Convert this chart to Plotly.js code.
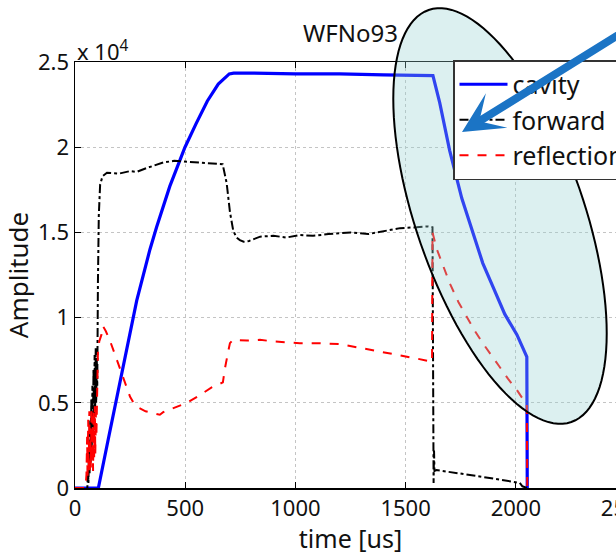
<!DOCTYPE html>
<html>
<head>
<meta charset="utf-8">
<script src="https://cdn.plot.ly/plotly-3.0.1.min.js"></script>
<style>
html,body{margin:0;padding:0;overflow:hidden;background:#fff;}
#chart{width:660px;height:555px;}
</style>
</head>
<body>
<div id="chart"></div>
<script>
// ---- data (amplitude in units of 10^4, time in us) ----
const cavityT = [0, 100, 106, 150, 189, 240, 280, 340, 370, 430, 499, 550, 600, 650, 700, 720, 800, 1000, 1200, 1400, 1624, 1655, 1700, 1755, 1800, 1850, 1900, 1950, 2005, 2045, 2050, 2052];
const cavityA = [0, 0, 0, 0.28, 0.52, 0.84, 1.10, 1.40, 1.53, 1.77, 2.00, 2.14, 2.27, 2.37, 2.43, 2.435, 2.435, 2.43, 2.43, 2.425, 2.42, 2.26, 1.98, 1.70, 1.52, 1.32, 1.17, 1.02, 0.90, 0.79, 0.77, 0];

const forwardT = [0, 56, 59, 61, 64, 66, 69, 71, 74, 76, 79, 81, 84, 86, 89, 91, 94, 96, 99, 101, 104, 108, 114, 125, 145, 200, 250, 280, 330, 400, 450, 500, 560, 620, 670, 688, 703, 718, 733, 748, 765, 790, 840, 900, 960, 1020, 1080, 1150, 1250, 1330, 1400, 1475, 1550, 1600, 1622, 1624, 1627, 1629, 1631, 1640, 1700, 1800, 1900, 1995, 2018, 2030, 2050];
const forwardA = [0, 0, 0.12, 0.03, 0.28, 0.08, 0.40, 0.15, 0.52, 0.22, 0.60, 0.30, 0.70, 0.35, 0.78, 0.42, 0.82, 0.50, 0.75, 0.60, 1.20, 1.60, 1.78, 1.83, 1.85, 1.845, 1.86, 1.855, 1.88, 1.91, 1.92, 1.915, 1.91, 1.905, 1.90, 1.79, 1.62, 1.51, 1.47, 1.455, 1.445, 1.45, 1.475, 1.48, 1.47, 1.485, 1.48, 1.49, 1.50, 1.49, 1.505, 1.525, 1.53, 1.535, 1.53, 0.05, 0.03, 0.22, 0.10, 0.105, 0.095, 0.075, 0.055, 0.035, 0.03, 0.01, 0];

const reflT = [0, 48, 52, 55, 57, 60, 62, 65, 67, 70, 72, 75, 77, 80, 82, 85, 87, 90, 92, 95, 97, 100, 104, 110, 120, 127, 140, 160, 190, 220, 250, 270, 290, 320, 360, 385, 400, 450, 508, 560, 620, 671, 680, 695, 703, 717, 780, 839, 900, 1020, 1100, 1200, 1324, 1400, 1474, 1550, 1620, 1622, 1642, 1670, 1701, 1740, 1778, 1815, 1850, 1890, 1927, 1965, 2005, 2041, 2050, 2052];
const reflA = [0, 0, 0.08, 0.30, 0.05, 0.40, 0.10, 0.45, 0.08, 0.35, 0.12, 0.47, 0.15, 0.42, 0.10, 0.46, 0.18, 0.48, 0.20, 0.45, 0.30, 0.60, 0.80, 0.86, 0.90, 0.95, 0.92, 0.86, 0.75, 0.64, 0.535, 0.49, 0.47, 0.45, 0.435, 0.43, 0.445, 0.47, 0.50, 0.54, 0.59, 0.62, 0.70, 0.80, 0.85, 0.87, 0.865, 0.87, 0.86, 0.85, 0.85, 0.845, 0.815, 0.80, 0.78, 0.76, 0.74, 1.50, 1.40, 1.30, 1.20, 1.09, 1.00, 0.92, 0.85, 0.78, 0.71, 0.64, 0.575, 0.505, 0.49, 0];

const xTicks = [0, 500, 1000, 1500, 2000, 2500];
const yTicks = [0, 0.5, 1, 1.5, 2, 2.5];
const yTickText = ['0', '0.5', '1', '1.5', '2', '2.5'];
const seriesNames = ['cavity', 'forward', 'reflection'];

// ---- layout geometry ----
const W = 660, H = 555;
const M = {l: 75, r: 34, t: 62, b: 67};
const plotW = W - M.l - M.r, plotH = H - M.t - M.b;
const FONT = 'Noto Sans, Arial, sans-serif';

function px2paper(px, py) { return [(px - M.l) / plotW, (H - M.b - py) / plotH]; }

// highlighted ellipse (tilted), built as a polygon path in paper coords
function ellipsePath(cx, cy, a, b, deg) {
  const th = deg * Math.PI / 180;
  let d = '';
  for (let i = 0; i <= 120; i++) {
    const t = 2 * Math.PI * i / 120;
    const ex = a * Math.cos(t), ey = b * Math.sin(t);
    const X = cx + ex * Math.cos(th) - ey * Math.sin(th);
    const Y = cy + ex * Math.sin(th) + ey * Math.cos(th);
    const p = px2paper(X, Y);
    d += (i === 0 ? 'M' : 'L') + p[0].toFixed(5) + ',' + p[1].toFixed(5);
  }
  return d + 'Z';
}

const traces = [
  {x: cavityT, y: cavityA, name: seriesNames[0], mode: 'lines', line: {color: '#0000ff', width: 3.2}},
  {x: forwardT, y: forwardA, name: seriesNames[1], mode: 'lines', line: {color: '#000000', width: 2, dash: 'dashdot'}},
  {x: reflT, y: reflA, name: seriesNames[2], mode: 'lines', line: {color: '#ff0000', width: 2, dash: 'dash'}}
];

const axisCommon = {
  showline: true, linecolor: '#000', linewidth: 1.5, mirror: 'ticks',
  ticks: 'inside', ticklen: 6, tickcolor: '#000', tickwidth: 1,
  showgrid: true, gridcolor: '#c4c4c4', griddash: 'dot', gridwidth: 1,
  zeroline: false, tickfont: {family: FONT, size: 22, color: '#111'}
};

const tip = px2paper(462, 132);
const layout = {
  width: W, height: H,
  margin: M,
  paper_bgcolor: '#fff', plot_bgcolor: '#fff',
  font: {family: FONT, color: '#111'},
  title: {text: 'WFNo93', font: {family: FONT, size: 24, color: '#111'}, x: 0.5, xref: 'paper', y: 1 - 34 / H, yref: 'container', yanchor: 'middle'},
  xaxis: Object.assign({}, axisCommon, {range: [0, 2500], tickvals: xTicks,
    title: {text: 'time [us]', font: {family: FONT, size: 25, color: '#111'}, standoff: 6}}),
  yaxis: Object.assign({}, axisCommon, {range: [0, 2.5], tickvals: yTicks, ticktext: yTickText,
    title: {text: 'Amplitude', font: {family: FONT, size: 26, color: '#111'}, standoff: 6}}),
  showlegend: true,
  legend: {x: (453 - M.l) / plotW, y: (H - M.b - 60) / plotH, xanchor: 'left', yanchor: 'top',
    bgcolor: '#fff', bordercolor: '#333', borderwidth: 1.5,
    font: {family: FONT, size: 25, color: '#111'}, itemwidth: 48, tracegroupgap: 0},
  shapes: [{
    type: 'path', xref: 'paper', yref: 'paper', layer: 'above',
    path: ellipsePath(500, 216, 218, 84, 70.9),
    fillcolor: 'rgba(150,210,210,0.33)', line: {color: '#000', width: 2}
  }],
  annotations: [
    {xref: 'paper', yref: 'paper', x: 0, y: 1, xanchor: 'left', yanchor: 'bottom', showarrow: false,
     text: 'x 10<sup>4</sup>', font: {family: FONT, size: 22, color: '#111'}, yshift: -6},
    {xref: 'paper', yref: 'paper', x: tip[0], y: tip[1], ax: 190, ay: -118, text: ' ',
     showarrow: true, arrowhead: 3, arrowsize: 0.85, arrowwidth: 8, arrowcolor: '#1b74c5'}
  ]
};

Plotly.newPlot('chart', traces, layout, {displayModeBar: false, staticPlot: true});
</script>
</body>
</html>
